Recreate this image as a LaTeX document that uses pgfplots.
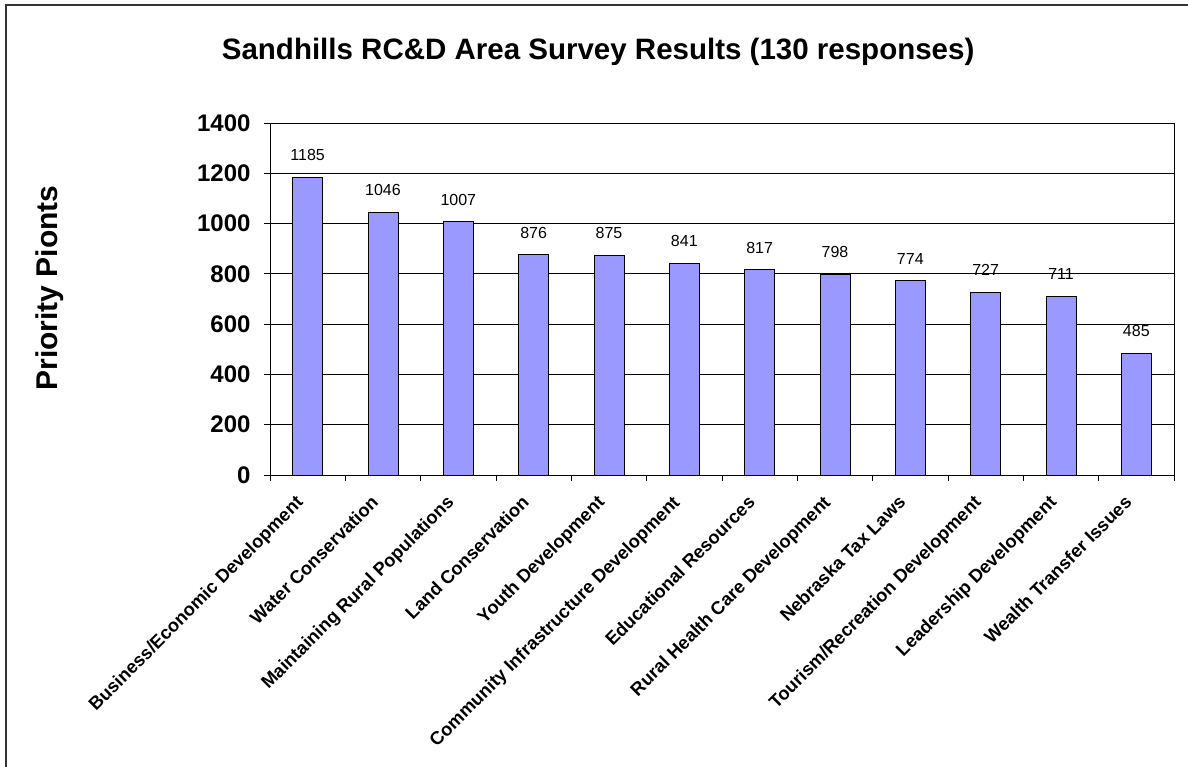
\documentclass[border=0pt]{standalone}
\usepackage{fontspec}
\setmainfont{Liberation Sans}
\usepackage{pgfplots}
\pgfplotsset{compat=1.18}
\definecolor{barblue}{HTML}{9999FF}

\begin{document}
\begin{tikzpicture}
  % page frame: only left and top edges show in the reference
  \draw[line width=1.5bp, black!80] (6bp,-770bp) -- (6bp,-5bp) -- (1190bp,-5bp);
  \begin{axis}[
      at={(270bp,-475bp)}, anchor=south west,
      scale only axis, width=904bp, height=352bp,
      xmin=-0.5, xmax=11.5, ymin=0, ymax=1400,
      ytick={0,200,...,1400},
      xtick={0,...,11},
      minor xtick={-0.5,0.5,...,11.5},
      xticklabels={Business/Economic Development, Water Conservation,
        Maintaining Rural Populations, Land Conservation, Youth Development,
        Community Infrastructure Development, Educational Resources,
        Rural Health Care Development, Nebraska Tax Laws,
        Tourism/Recreation Development, Leadership Development,
        Wealth Transfer Issues},
      tick pos=left,
      major x tick style={draw=none},
      tick align=outside,
      major tick length=6bp, minor tick length=6bp,
      tick style={black, line width=0.8bp},
      x tick label style={xshift=-13bp, yshift=-13bp, rotate=45,
        anchor=north east, inner sep=0pt,
        font=\fontsize{18.3bp}{21bp}\selectfont\bfseries},
      y tick label style={xshift=-10bp,
        font=\fontsize{24bp}{28bp}\selectfont\bfseries},
      /pgf/number format/assume math mode=true,
      /pgf/number format/1000 sep={},
      ymajorgrids,
      grid style={black, line width=0.8bp},
      axis line style={black, line width=0.8bp},
      ylabel={Priority Pionts},
      ylabel style={at={(rel axis cs:-0.2434,0.531)}, anchor=center,
        font=\fontsize{30bp}{34bp}\selectfont\bfseries},
      title={Sandhills RC\&D Area Survey Results (130 responses)},
      title style={at={(rel axis cs:0.363,1.185)}, anchor=center,
        font=\fontsize{29.5bp}{34bp}\selectfont\bfseries},
      nodes near coords,
      nodes near coords style={anchor=south, inner sep=0pt, yshift=16bp,
        font=\fontsize{16bp}{19bp}\selectfont, black},
      clip=false,
    ]
    \addplot[ybar, bar width=30bp, fill=barblue, draw=black, line width=0.8bp]
      coordinates {
        (0,1185) (1,1046) (2,1007) (3,876) (4,875) (5,841)
        (6,817) (7,798) (8,774) (9,727) (10,711) (11,485)
      };
  \end{axis}
  \pgfresetboundingbox
  \useasboundingbox (0,0) rectangle (1188bp,-767bp);
\end{tikzpicture}
\end{document}
